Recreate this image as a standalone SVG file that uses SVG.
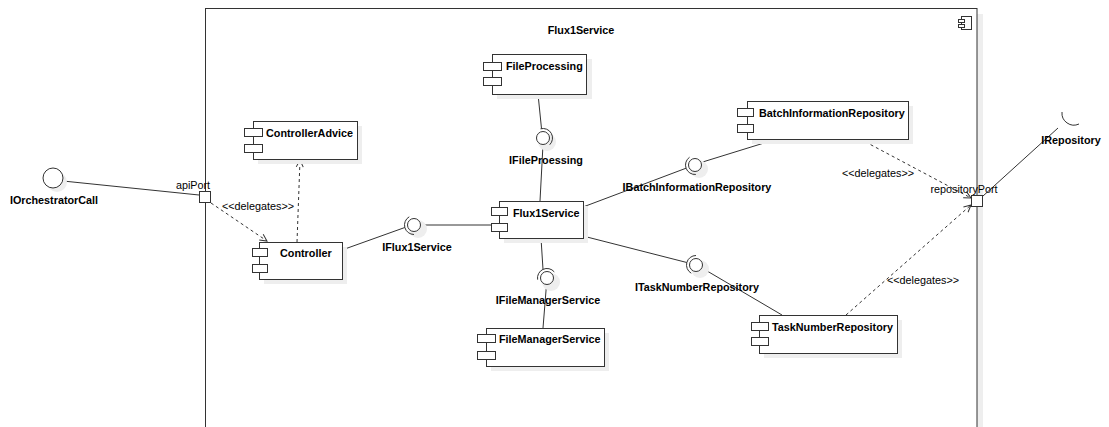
<svg xmlns="http://www.w3.org/2000/svg" width="1109" height="427" viewBox="0 0 1109 427">
  <style>
    .box { fill: #ffffff; stroke: #333333; stroke-width: 1; }
    .shadow { fill: #eeeeee; stroke: none; }
    .ico { fill: #ffffff; stroke: #333333; stroke-width: 1; }
    .line { fill: none; stroke: #333333; stroke-width: 1; }
    .dash { fill: none; stroke: #333333; stroke-width: 1; stroke-dasharray: 3 3; }
    .title { font-family: "Liberation Sans", Arial, sans-serif; font-size: 10.8px; font-weight: bold; fill: #000000; }
    .lbl { font-family: "Liberation Sans", Arial, sans-serif; font-size: 10.8px; fill: #000000; }
    .mid { text-anchor: middle; }
  </style>
  <defs>
    <marker id="open" viewBox="-9 -5 10 10" refX="0" refY="0" markerWidth="10" markerHeight="10" markerUnits="userSpaceOnUse" orient="auto">
      <path d="M-7,-3.5 L0,0 L-7,3.5" fill="none" stroke="#333333" stroke-width="1"/>
    </marker>
  </defs>

  <rect width="1109" height="427" fill="#ffffff"/>

  <!-- Flux1Service container -->
  <g id="frame">
    <rect class="shadow" x="211" y="14" width="772" height="430"/>
    <rect class="box" x="205.5" y="8.5" width="771.5" height="430"/>
    <text class="title mid" x="581" y="34">Flux1Service</text>
    <rect class="ico" x="961.5" y="16.5" width="10" height="13"/>
    <rect class="ico" x="958.5" y="19.5" width="6" height="3"/>
    <rect class="ico" x="958.5" y="24.5" width="6" height="3"/>
  </g>

  <!-- connectors -->
  <g id="connectors">
    <line class="line" x1="63" y1="181" x2="199" y2="195"/>
    <line class="dash" x1="211" y1="203" x2="267" y2="241" marker-end="url(#open)"/>
    <line class="dash" x1="297" y1="242" x2="300" y2="160" marker-end="url(#open)"/>
    <line class="line" x1="342" y1="250" x2="404.8" y2="227.5"/>
    <line class="line" x1="420.5" y1="225" x2="491" y2="225"/>
    <line class="line" x1="538" y1="94" x2="541.5" y2="128.6"/>
    <line class="line" x1="543" y1="144.5" x2="540" y2="201"/>
    <line class="line" x1="583" y1="207" x2="686.1" y2="168.2"/>
    <line class="line" x1="701" y1="162.5" x2="777" y2="139"/>
    <line class="line" x1="583" y1="236" x2="686.8" y2="262.5"/>
    <line class="line" x1="702" y1="268" x2="782" y2="315"/>
    <line class="line" x1="541" y1="238" x2="543" y2="269.4"/>
    <line class="line" x1="546.5" y1="284.5" x2="543" y2="328"/>
    <line class="dash" x1="860" y1="139" x2="971" y2="198" marker-end="url(#open)"/>
    <line class="dash" x1="846" y1="315" x2="971" y2="205" marker-end="url(#open)"/>
    <line class="line" x1="983" y1="196" x2="1058" y2="128"/>
    <text class="lbl mid" x="258" y="210">&lt;&lt;delegates&gt;&gt;</text>
    <text class="lbl mid" x="878" y="177">&lt;&lt;delegates&gt;&gt;</text>
    <text class="lbl mid" x="923" y="284">&lt;&lt;delegates&gt;&gt;</text>
  </g>

  <!-- external interfaces and ports -->
  <g id="IOrchestratorCall">
    <circle cx="57" cy="182" r="10" class="shadow"/>
    <circle cx="53" cy="178" r="10" class="box"/>
    <text class="title mid" x="54" y="204">IOrchestratorCall</text>
  </g>
  <g id="apiPort">
    <rect class="box" x="199.5" y="191.5" width="11" height="11"/>
    <text class="lbl mid" x="193" y="189">apiPort</text>
  </g>
  <g id="repositoryPort">
    <rect class="box" x="971.5" y="195.5" width="11" height="11"/>
    <text class="lbl mid" x="964" y="193">repositoryPort</text>
  </g>
  <g id="IRepository">
    <path class="line" d="M1062,112 A12 12 0 0 0 1079,124"/>
    <text class="title mid" x="1071" y="144">IRepository</text>
  </g>

  <!-- components -->
  <g id="ControllerAdvice">
    <rect class="shadow" x="258" y="126" width="104" height="38"/>
    <rect class="box" x="253.5" y="121.5" width="104" height="38"/>
    <rect class="ico" x="244.5" y="128.5" width="18" height="8"/>
    <rect class="ico" x="244.5" y="144.5" width="18" height="8"/>
    <text class="title" x="266" y="137">ControllerAdvice</text>
  </g>
  <g id="Controller">
    <rect class="shadow" x="264" y="247" width="83" height="37"/>
    <rect class="box" x="259.5" y="242.5" width="83" height="37"/>
    <rect class="ico" x="252.5" y="248.5" width="15" height="8"/>
    <rect class="ico" x="252.5" y="264.5" width="15" height="8"/>
    <text class="title" x="280" y="257">Controller</text>
  </g>
  <g id="FileProcessing">
    <rect class="shadow" x="497" y="59" width="95" height="40"/>
    <rect class="box" x="492.5" y="54.5" width="94" height="40"/>
    <rect class="ico" x="483.5" y="62.5" width="18" height="8"/>
    <rect class="ico" x="483.5" y="77.5" width="18" height="8"/>
    <text class="title" x="506" y="70">FileProcessing</text>
  </g>
  <g id="Flux1Service">
    <rect class="shadow" x="504" y="206" width="84" height="37"/>
    <rect class="box" x="499.5" y="201.5" width="84" height="37"/>
    <rect class="ico" x="491.5" y="207.5" width="16" height="8"/>
    <rect class="ico" x="491.5" y="223.5" width="16" height="8"/>
    <text class="title" x="513" y="217">Flux1Service</text>
  </g>
  <g id="FileManagerService">
    <rect class="shadow" x="491" y="333" width="118" height="38"/>
    <rect class="box" x="486.5" y="328.5" width="118" height="38"/>
    <rect class="ico" x="477.5" y="334.5" width="18" height="8"/>
    <rect class="ico" x="477.5" y="351.5" width="18" height="8"/>
    <text class="title" x="499" y="343">FileManagerService</text>
  </g>
  <g id="BatchInformationRepository">
    <rect class="shadow" x="752" y="106" width="161" height="38"/>
    <rect class="box" x="747.5" y="101.5" width="161" height="38"/>
    <rect class="ico" x="737.5" y="108.5" width="16" height="8"/>
    <rect class="ico" x="737.5" y="124.5" width="16" height="8"/>
    <text class="title" x="759" y="117">BatchInformationRepository</text>
  </g>
  <g id="TaskNumberRepository">
    <rect class="shadow" x="764" y="320" width="138" height="38"/>
    <rect class="box" x="759.5" y="315.5" width="138" height="38"/>
    <rect class="ico" x="751.5" y="322.5" width="17" height="8"/>
    <rect class="ico" x="751.5" y="337.5" width="17" height="8"/>
    <text class="title" x="772" y="331">TaskNumberRepository</text>
  </g>

  <!-- internal provided/required interfaces -->
  <g id="IFlux1Service">
    <circle cx="418" cy="229" r="9" class="shadow"/>
    <circle cx="414" cy="225" r="6.5" class="box"/>
    <path class="line" d="M414,234.5 A9.5 9.5 0 0 1 409.25,216.77"/>
    <text class="title mid" x="417" y="251">IFlux1Service</text>
  </g>
  <g id="IFileProessing">
    <circle cx="547" cy="142" r="9" class="shadow"/>
    <circle cx="543" cy="138" r="6.5" class="box"/>
    <path class="line" d="M540.54,128.82 A9.5 9.5 0 0 1 549.72,144.72"/>
    <text class="title mid" x="546" y="164">IFileProessing</text>
  </g>
  <g id="IBatchInformationRepository">
    <circle cx="699" cy="169" r="9" class="shadow"/>
    <circle cx="695" cy="165" r="6.5" class="box"/>
    <path class="line" d="M695.83,174.46 A9.5 9.5 0 0 1 689.55,157.22"/>
    <text class="title mid" x="697" y="191">IBatchInformationRepository</text>
  </g>
  <g id="ITaskNumberRepository">
    <circle cx="700" cy="269" r="9" class="shadow"/>
    <circle cx="696" cy="265" r="6.5" class="box"/>
    <path class="line" d="M691.25,273.23 A9.5 9.5 0 0 1 696,255.5"/>
    <text class="title mid" x="697" y="291">ITaskNumberRepository</text>
  </g>
  <g id="IFileManagerService">
    <circle cx="551" cy="282" r="9" class="shadow"/>
    <circle cx="547" cy="278" r="6.5" class="box"/>
    <path class="line" d="M537.64,279.65 A9.5 9.5 0 0 1 554.28,271.89"/>
    <text class="title mid" x="548" y="304">IFileManagerService</text>
  </g>
</svg>
